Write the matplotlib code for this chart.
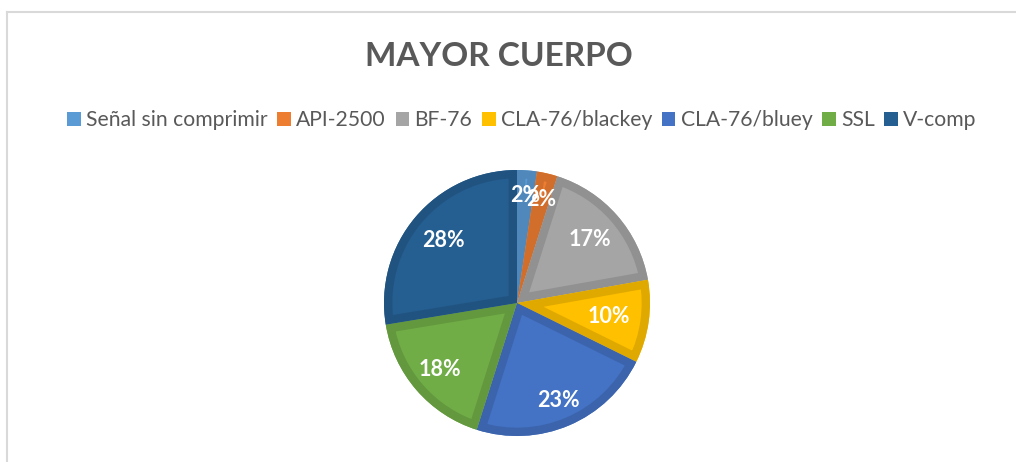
import numpy as np
import matplotlib
matplotlib.use("Agg")
import matplotlib.pyplot as plt
from matplotlib.lines import Line2D
from matplotlib.patches import Patch, Wedge
import matplotlib.colors as mcolors

labels = ["Señal sin comprimir", "API-2500", "BF-76", "CLA-76/blackey",
          "CLA-76/bluey", "SSL", "V-comp"]
values = [2.4, 2.5, 17.3, 10.1, 22.6, 17.5, 27.6]
colors = ["#5B9BD5", "#ED7D31", "#A5A5A5", "#FFC000", "#4472C4", "#70AD47", "#255E91"]
title = "MAYOR CUERPO"

# per-slice label distance (Excel "best fit" placement)
label_dist = [0.81, 0.80, 0.73, 0.70, 0.80, 0.77, 0.73]

plt.rcParams["font.family"] = ["Lato", "DejaVu Sans"]

W, H = 1016, 462
fig = plt.figure(figsize=(W / 100, H / 100), dpi=100)

# chart-area border (light gray, top and left visible)
fig.add_artist(Line2D([7 / W, 1], [1 - 12 / H, 1 - 12 / H], color="#D9D9D9", lw=1.5))
fig.add_artist(Line2D([7 / W, 7 / W], [0, 1 - 12 / H], color="#D9D9D9", lw=1.5))

cx, cy, r = 517, 303, 133
ax = fig.add_axes([(cx - r) / W, (H - cy - r) / H, 2 * r / W, 2 * r / H])

wedges, _ = ax.pie(values, colors=colors, startangle=90, counterclock=False,
                   radius=1, wedgeprops=dict(linewidth=0))

# darker inner rim on each slice, clipped to the slice itself
for w, c in zip(wedges, colors):
    dark = tuple(np.array(mcolors.to_rgb(c)) * 0.88)
    clip = Wedge(w.center, w.r, w.theta1, w.theta2, transform=ax.transData)
    rim = Wedge(w.center, w.r, w.theta1, w.theta2, facecolor="none",
                edgecolor=dark, linewidth=12, zorder=w.get_zorder() + 0.1)
    ax.add_patch(rim)
    rim.set_clip_path(clip)

total = sum(values)
cum = 0
for v, d in zip(values, label_dist):
    mid = 90 - 360 * (cum + v / 2) / total
    cum += v
    x, y = d * np.cos(np.radians(mid)), d * np.sin(np.radians(mid))
    ax.text(x, y, f"{round(100 * v / total)}%", ha="center", va="center",
            color="white", fontsize=15.5, fontweight="bold", zorder=5)

ax.set_xlim(-1, 1)
ax.set_ylim(-1, 1)
ax.set_aspect("equal")
ax.axis("off")

fig.text(499 / W, 1 - 57 / H, title, ha="center", va="center",
         fontsize=24, fontweight="bold", color="#595959")

handles = [Patch(facecolor=c, edgecolor="none", label=l) for c, l in zip(colors, labels)]
fig.legend(handles=handles, loc="center", bbox_to_anchor=(522 / W, 1 - 120 / H),
           ncol=7, frameon=False, fontsize=15.2, handlelength=0.65, handleheight=0.65,
           handletextpad=0.25, columnspacing=0.45, labelcolor="#595959")

fig.savefig("out.png", dpi=100, facecolor="white")
